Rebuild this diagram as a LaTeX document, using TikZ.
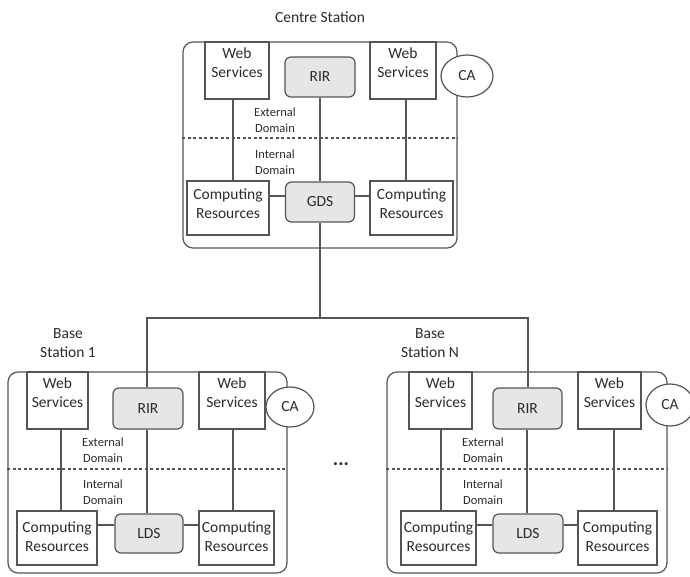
\documentclass[tikz,border=0pt]{standalone}
\usepackage{fontspec}
\setmainfont{Carlito}
\usetikzlibrary{shapes.geometric}
\definecolor{ln}{HTML}{555555}
\definecolor{gb}{HTML}{E6E6E6}
\definecolor{tx}{HTML}{2B2B2B}
\tikzset{
  conn/.style={draw=ln, line width=1.2pt},
  dline/.style={conn, dash pattern=on 3pt off 2.5pt},
  outerbox/.style={draw=ln, line width=1.2pt, rounded corners=10pt, inner sep=0pt},
  box/.style={draw=ln, line width=1.2pt, fill=white, inner sep=0pt, align=center, text=tx,
    font=\fontsize{15.5}{19}\selectfont},
  gbox/.style={box, fill=gb, rounded corners=6pt},
  lbl/.style={text=tx, align=center, font=\fontsize{15.5}{19}\selectfont},
  dom/.style={text=tx, align=center, font=\fontsize{12.5}{16}\selectfont},
  caell/.style={ellipse, draw=ln, line width=1.2pt, fill=white, inner sep=0pt, text=tx,
    font=\fontsize{15.5}{19}\selectfont},
}
\begin{document}
\begin{tikzpicture}[x=1pt, y=-1pt]
\useasboundingbox (0,0) rectangle (690,577);

%% ---------------- Centre station ----------------
\node[lbl] (c-title) at (320,17) {Centre Station};
\node[outerbox, minimum width=274pt, minimum height=206pt] (c-out) at (320,145) {};
\draw[dline] (c-out.west |- 0,138) -- (c-out.east |- 0,138);
\node[box, minimum width=64pt, minimum height=57pt,
  label={[lbl, yshift=8pt]center:Web\\Services}] (c-wsl) at (237,70.5) {};
\node[box, minimum width=66pt, minimum height=57pt,
  label={[lbl, yshift=8pt]center:Web\\Services}] (c-wsr) at (403,70.5) {};
\node[gbox, minimum width=70pt, minimum height=40pt] (c-rir) at (320,77) {RIR};
\node[caell, minimum width=52pt, minimum height=42pt] (c-ca) at (467,76) {CA};
\node[dom] (c-ext) at (275,120) {External\\Domain};
\node[dom] (c-int) at (275,162) {Internal\\Domain};
\node[box, minimum width=82pt, minimum height=54pt,
  label={[lbl, yshift=4pt]center:Computing\\Resources}] (c-cl) at (228,208) {};
\node[gbox, minimum width=69pt, minimum height=40pt] (c-gds) at (320,202) {GDS};
\node[box, minimum width=83pt, minimum height=54pt,
  label={[lbl, yshift=4pt]center:Computing\\Resources}] (c-cr) at (411.5,208) {};
\draw[conn] (c-wsl.south -| 233,0) -- (c-cl.north -| 233,0);
\draw[conn] (c-wsr.south -| 406,0) -- (c-cr.north -| 406,0);
\draw[conn] (c-rir.south) -- (c-gds.north);
\draw[conn] (c-cl.east |- 0,196) -- (c-gds.west |- 0,196);
\draw[conn] (c-gds.east |- 0,196) -- (c-cr.west |- 0,196);

%% ---------------- Base station 1 ----------------
\node[lbl] (b1-title) at (68,343) {Base\\Station 1};
\node[outerbox, minimum width=279pt, minimum height=201pt] (b1-out) at (147.5,472.5) {};
\draw[dline] (b1-out.west |- 0,469) -- (b1-out.east |- 0,469);
\node[box, minimum width=61pt, minimum height=57pt,
  label={[lbl, yshift=8pt]center:Web\\Services}] (b1-wsl) at (57.5,400.5) {};
\node[box, minimum width=66pt, minimum height=57pt,
  label={[lbl, yshift=8pt]center:Web\\Services}] (b1-wsr) at (232,400.5) {};
\node[gbox, minimum width=70pt, minimum height=41pt] (b1-rir) at (148,408.5) {RIR};
\node[caell, minimum width=48pt, minimum height=40pt] (b1-ca) at (290,407) {CA};
\node[dom] (b1-ext) at (103,450.5) {External\\Domain};
\node[dom] (b1-int) at (103,492) {Internal\\Domain};
\node[box, minimum width=80pt, minimum height=54pt,
  label={[lbl, yshift=1.5pt]center:Computing\\Resources}] (b1-cl) at (57,538) {};
\node[gbox, minimum width=68pt, minimum height=39pt] (b1-lds) at (149,533.5) {LDS};
\node[box, minimum width=75pt, minimum height=54pt,
  label={[lbl, yshift=1.5pt]center:Computing\\Resources}] (b1-cr) at (236.5,538) {};
\draw[conn] (b1-wsl.south -| 61,0) -- (b1-cl.north -| 61,0);
\draw[conn] (b1-wsr.south -| 233,0) -- (b1-cr.north -| 233,0);
\draw[conn] (b1-rir.south -| 147,0) -- (b1-lds.north -| 147,0);
\draw[conn] (b1-cl.east |- 0,525) -- (b1-lds.west |- 0,525);
\draw[conn] (b1-lds.east |- 0,525) -- (b1-cr.west |- 0,525);

%% ---------------- Base station N ----------------
\node[lbl] (bn-title) at (430,343) {Base\\Station N};
\node[outerbox, minimum width=280pt, minimum height=201pt] (bn-out) at (527,472.5) {};
\draw[dline] (bn-out.west |- 0,469) -- (bn-out.east |- 0,469);
\node[box, minimum width=63pt, minimum height=57pt,
  label={[lbl, yshift=8pt]center:Web\\Services}] (bn-wsl) at (440.5,400.5) {};
\node[box, minimum width=63pt, minimum height=57pt,
  label={[lbl, yshift=8pt]center:Web\\Services}] (bn-wsr) at (609.5,400.5) {};
\node[gbox, minimum width=69pt, minimum height=41pt] (bn-rir) at (527.5,408.5) {RIR};
\node[caell, minimum width=48pt, minimum height=42pt] (bn-ca) at (670,405) {CA};
\node[dom] (bn-ext) at (483,450.5) {External\\Domain};
\node[dom] (bn-int) at (483,492) {Internal\\Domain};
\node[box, minimum width=75pt, minimum height=54pt,
  label={[lbl, yshift=1.5pt]center:Computing\\Resources}] (bn-cl) at (438.5,538) {};
\node[gbox, minimum width=70pt, minimum height=39pt] (bn-lds) at (528,533.5) {LDS};
\node[box, minimum width=79pt, minimum height=54pt,
  label={[lbl, yshift=1.5pt]center:Computing\\Resources}] (bn-cr) at (617.5,538) {};
\draw[conn] (bn-wsl.south -| 441,0) -- (bn-cl.north -| 441,0);
\draw[conn] (bn-wsr.south -| 614,0) -- (bn-cr.north -| 614,0);
\draw[conn] (bn-rir.south -| 527,0) -- (bn-lds.north -| 527,0);
\draw[conn] (bn-cl.east |- 0,525) -- (bn-lds.west |- 0,525);
\draw[conn] (bn-lds.east |- 0,525) -- (bn-cr.west |- 0,525);

%% ---------------- Backbone ----------------
\coordinate (bus) at (320,318);
\draw[conn] (c-gds.south) -- (bus);
\draw[conn] (b1-rir.north -| 147,0) -- (147,318) -- (528,318) -- (bn-rir.north -| 528,0);

%% ellipsis
\node[text=tx, font=\fontsize{20}{20}\selectfont\bfseries] (dots) at (341,464) {...};
\end{tikzpicture}
\end{document}
